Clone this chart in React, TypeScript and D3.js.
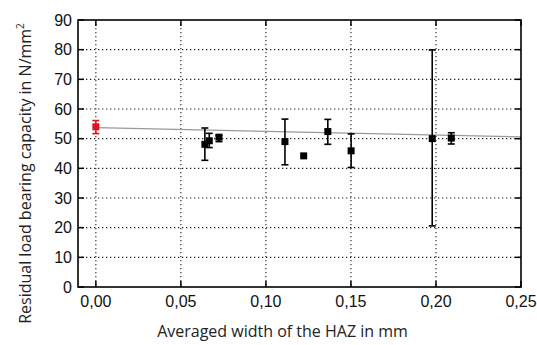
import React from "react";
import * as d3 from "d3";

const xs = [0.0, 0.0641, 0.0667, 0.0724, 0.1112, 0.1222, 0.1364, 0.1501, 0.1978, 0.209];
const ys = [54.0, 48.1, 49.3, 50.5, 49.0, 44.2, 52.4, 45.9, 50.0, 50.2];
const yLow = [51.7, 42.7, 47.0, 49.0, 41.2, 44.2, 48.1, 40.3, 20.6, 48.2];
const yHigh = [56.1, 53.6, 51.8, 51.1, 56.6, 44.2, 56.5, 51.6, 79.9, 52.0];
const reference = [true, false, false, false, false, false, false, false, false, false];
const trendX = [0.0, 0.25];
const trendY = [53.7, 50.6];
const xTicks = [0, 0.05, 0.1, 0.15, 0.2, 0.25];
const yTicks = [0, 10, 20, 30, 40, 50, 60, 70, 80, 90];

const W = 537, H = 345;
const L = 78, R = 521, T = 20, B = 287;

export default function App() {
  const x = d3.scaleLinear().domain([-0.0105, 0.25]).range([L, R]);
  const y = d3.scaleLinear().domain([0, 90]).range([B, T]);
  const fmt = (v: number) => v.toFixed(2).replace(".", ",");
  const line = d3.line<number>().x((d, i) => x(trendX[i])).y((d) => y(d));
  const tick = 6;
  const ms = 7;
  const cap = 3.5;
  return (
    <svg width={W} height={H} style={{ position: "absolute", left: 0, top: 0 }}>
      <rect x={0} y={0} width={W} height={H} fill="white" />
      {/* grid */}
      {yTicks.filter((t) => t > 0 && t < 90).map((t) => (
        <line key={"gy" + t} x1={L} x2={R} y1={y(t)} y2={y(t)} stroke="#222" strokeWidth={1.1} strokeDasharray="1.3,2.7" />
      ))}
      {xTicks.filter((t) => t < 0.25).map((t) => (
        <line key={"gx" + t} x1={x(t)} x2={x(t)} y1={T} y2={B} stroke="#222" strokeWidth={1.1} strokeDasharray="1.3,2.7" />
      ))}
      {/* ticks */}
      {yTicks.map((t) => (
        <g key={"ty" + t}>
          <line x1={L} x2={L + tick} y1={y(t)} y2={y(t)} stroke="#000" strokeWidth={1.5} />
          <line x1={R} x2={R - tick} y1={y(t)} y2={y(t)} stroke="#000" strokeWidth={1.5} />
          <text x={72} y={y(t)} dy="0.36em" textAnchor="end" fontFamily="Liberation Sans, Arial, sans-serif" fontSize={16} fill="#111">{t}</text>
        </g>
      ))}
      {xTicks.map((t) => (
        <g key={"tx" + t}>
          <line x1={x(t)} x2={x(t)} y1={B} y2={B - tick} stroke="#000" strokeWidth={1.5} />
          <line x1={x(t)} x2={x(t)} y1={T} y2={T + tick} stroke="#000" strokeWidth={1.5} />
          <text x={x(t)} y={306.5} textAnchor="middle" fontFamily="Liberation Sans, Arial, sans-serif" fontSize={16} fill="#111">{fmt(t)}</text>
        </g>
      ))}
      {/* trend line */}
      <path d={line(trendY) || ""} fill="none" stroke="#999" strokeWidth={1.3} />
      {/* error bars and markers */}
      {xs.map((xv, i) => {
        const c = reference[i] ? "#e0141e" : "#000";
        const px = x(xv);
        const hasErr = yHigh[i] - yLow[i] > 0.5;
        return (
          <g key={"p" + i}>
            {hasErr && (
              <g stroke={c} strokeWidth={1.6}>
                <line x1={px} x2={px} y1={y(yLow[i])} y2={y(yHigh[i])} />
                <line x1={px - cap} x2={px + cap} y1={y(yLow[i])} y2={y(yLow[i])} />
                <line x1={px - cap} x2={px + cap} y1={y(yHigh[i])} y2={y(yHigh[i])} />
              </g>
            )}
            <rect x={px - ms / 2} y={y(ys[i]) - ms / 2} width={ms} height={ms} fill={c} />
          </g>
        );
      })}
      {/* frame */}
      <rect x={L} y={T} width={R - L} height={B - T} fill="none" stroke="#000" strokeWidth={1.6} />
      {/* titles */}
      <text x={(162 + 403) / 2} y={337} textAnchor="middle" fontFamily="Open Sans, Noto Sans, sans-serif" fontSize={16} fill="#222">Averaged width of the HAZ in mm</text>
      <text transform={`translate(31,${(13 + 334) / 2}) rotate(-90)`} textAnchor="middle" fontFamily="Open Sans, Noto Sans, sans-serif" fontSize={16} fill="#222">
        Residual load bearing capacity in N/mm<tspan dy={-7} fontSize={10}>2</tspan>
      </text>
    </svg>
  );
}
